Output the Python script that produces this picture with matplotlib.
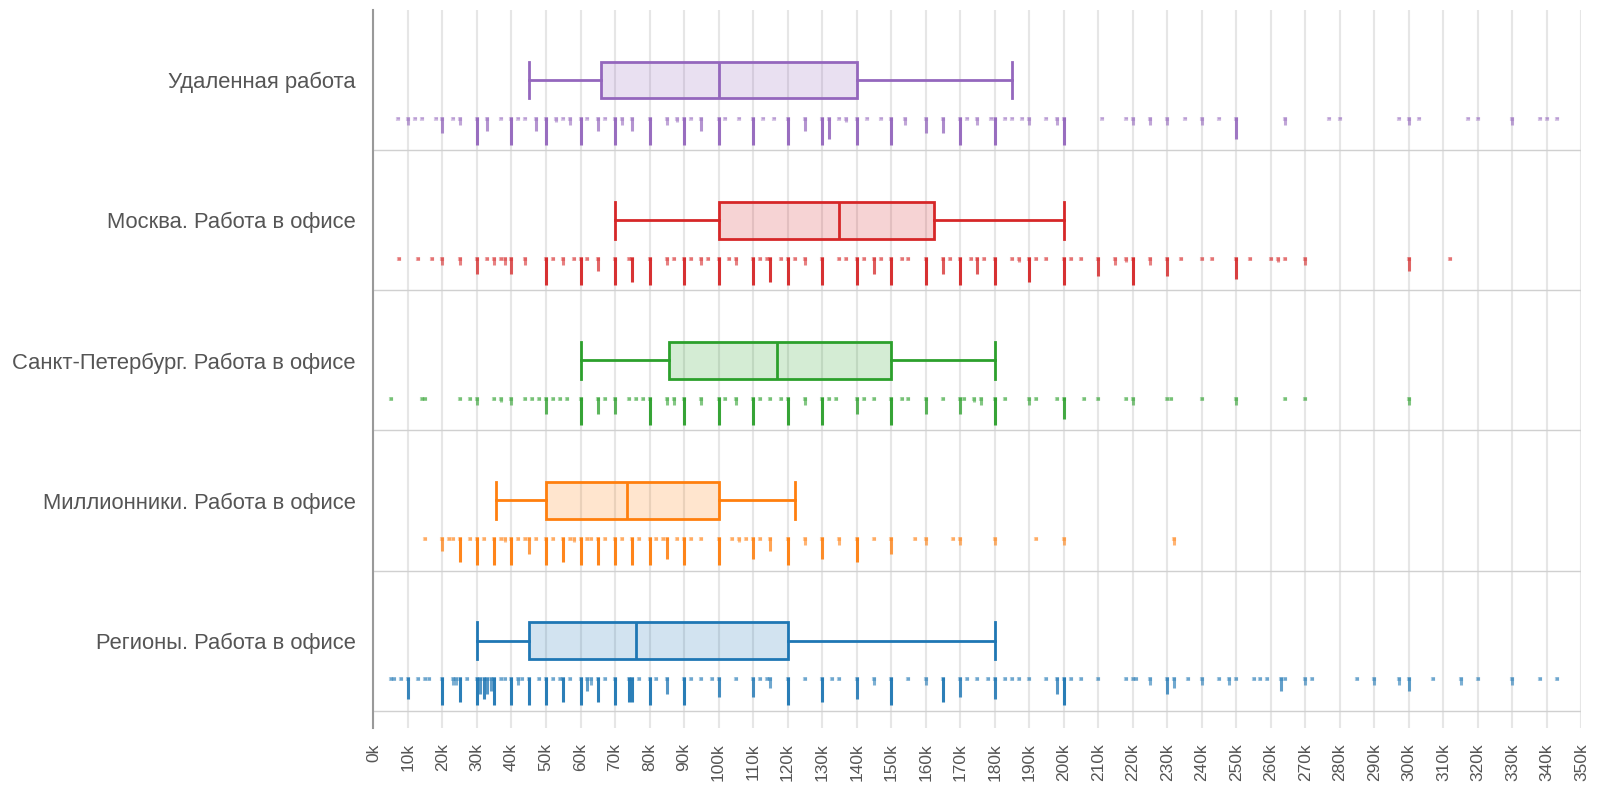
import numpy as np
import matplotlib.pyplot as plt
from matplotlib.ticker import MultipleLocator, FuncFormatter

plt.rcParams['font.family'] = ['Liberation Sans', 'DejaVu Sans']

# ---------------------- Data ----------------------
categories = [
    "Удаленная работа",
    "Москва. Работа в офисе",
    "Санкт-Петербург. Работа в офисе",
    "Миллионники. Работа в офисе",
    "Регионы. Работа в офисе",
]
colors = ["#9467bd", "#d62728", "#2ca02c", "#ff7f0e", "#1f77b4"]

# box stats, thousands RUB: whisker low, q1, median, q3, whisker high
whislo = [45, 70, 60, 35.5, 30]
q1 = [66, 100, 85.7, 50, 45]
med = [100, 135, 117, 73.5, 76]
q3 = [140, 162.5, 150, 100, 120]
whishi = [185, 200, 180, 122, 180]

# rug: salary values (k) and how many times each was seen
remote_vals = [7, 10, 12, 14, 18, 20, 23, 25, 30, 33, 37, 40, 42, 44, 47, 50, 53, 55, 57, 60,
               62, 65, 67, 70, 72, 75, 80, 85, 88, 90, 92, 95, 100, 102, 106, 110, 113, 116, 120, 125,
               130, 132, 135, 137, 140, 143, 147, 150, 154, 160, 165, 170, 172, 175, 179, 180, 183, 185, 188, 190,
               195, 198, 200, 211, 218, 220, 225, 230, 235, 240, 245, 250, 264, 277, 280, 297, 300, 303, 317, 320,
               330, 338, 340, 343]
remote_cnt = [1, 3, 1, 1, 1, 6, 1, 3, 10, 5, 1, 10, 1, 1, 5, 10, 2, 1, 3, 10,
              1, 5, 1, 10, 3, 5, 10, 3, 2, 10, 1, 5, 10, 1, 1, 10, 1, 1, 10, 5,
              10, 8, 1, 2, 10, 1, 1, 10, 3, 6, 6, 10, 1, 3, 1, 10, 1, 1, 1, 3,
              1, 3, 10, 1, 1, 3, 3, 3, 1, 3, 1, 8, 3, 1, 1, 1, 3, 1, 1, 1,
              3, 1, 1, 1]

moscow_vals = [7.5, 13, 17, 20, 25, 30, 33, 35, 37, 38, 40, 44, 50, 52, 55, 58, 60, 62, 65, 70,
               74, 75, 80, 85, 87, 90, 92, 95, 97, 100, 103, 105, 110, 112, 114, 115, 118, 120, 122, 125,
               130, 135, 137, 140, 142, 145, 147, 150, 153, 155, 160, 165, 167, 170, 173, 175, 177, 180, 185, 187,
               190, 192, 195, 200, 202, 205, 210, 215, 218, 220, 225, 230, 234, 240, 243, 250, 254, 260, 262, 264,
               270, 300, 312]
moscow_cnt = [1, 1, 1, 3, 3, 6, 1, 3, 1, 3, 6, 3, 10, 1, 3, 1, 10, 1, 5, 10,
              1, 9, 10, 3, 1, 10, 1, 3, 1, 10, 1, 3, 10, 1, 1, 9, 1, 10, 1, 3,
              10, 1, 1, 10, 1, 6, 1, 10, 1, 1, 10, 6, 1, 10, 1, 6, 1, 10, 1, 2,
              9, 1, 1, 10, 1, 1, 7, 3, 2, 10, 3, 7, 1, 1, 1, 8, 1, 1, 2, 1,
              3, 5, 1]

spb_vals = [5, 14, 15, 25, 28, 30, 35, 37, 40, 44, 46, 48, 50, 52, 54, 56, 60, 65, 67, 70,
            74, 76, 78, 80, 85, 87, 90, 95, 100, 102, 105, 110, 112, 115, 118, 120, 125, 130, 132, 134,
            140, 142, 145, 150, 153, 155, 160, 165, 170, 171, 174, 176, 180, 183, 190, 192, 198, 200, 206, 210,
            218, 220, 230, 231, 240, 250, 264, 270, 300]
spb_cnt = [1, 1, 1, 1, 1, 3, 1, 2, 3, 1, 1, 1, 6, 1, 1, 1, 10, 6, 1, 6,
           1, 1, 1, 10, 3, 3, 10, 3, 10, 1, 3, 10, 1, 1, 1, 10, 3, 10, 1, 1,
           6, 1, 1, 10, 1, 1, 6, 1, 6, 1, 2, 3, 10, 1, 3, 1, 1, 8, 1, 1,
           1, 3, 1, 1, 1, 3, 1, 1, 3]

million_vals = [15, 20, 22, 23, 25, 28, 30, 32, 35, 37, 38, 40, 42, 44, 45, 47, 50, 52, 55, 57,
                58, 60, 62, 63, 65, 67, 70, 72, 75, 77, 80, 82, 84, 85, 88, 90, 92, 95, 100, 104,
                106, 108, 110, 112, 115, 120, 125, 130, 135, 140, 145, 150, 157, 160, 168, 170, 180, 192, 200, 232]
million_cnt = [1, 5, 1, 1, 9, 1, 10, 1, 10, 1, 2, 10, 1, 1, 6, 1, 10, 1, 9, 1,
               2, 10, 1, 1, 10, 1, 10, 1, 10, 1, 10, 1, 1, 8, 1, 10, 1, 1, 10, 1,
               2, 1, 8, 1, 5, 10, 3, 8, 3, 9, 1, 6, 1, 3, 1, 3, 3, 1, 3, 3]

regions_vals = [5, 6, 8, 10, 13, 15, 16, 20, 23, 24, 25, 27, 30, 31, 32, 33, 34, 35, 37, 38,
                40, 42, 43, 45, 48, 50, 52, 54, 55, 57, 60, 62, 63, 65, 67, 70, 74, 75, 77, 80,
                82, 85, 90, 92, 95, 98, 100, 105, 110, 112, 114, 115, 120, 125, 130, 133, 135, 140, 145, 150,
                155, 160, 165, 170, 172, 175, 178, 180, 183, 185, 187, 190, 195, 198, 200, 202, 205, 210, 218, 220,
                221, 225, 230, 232, 236, 240, 245, 248, 250, 255, 257, 259, 263, 264, 270, 272, 285, 290, 297, 300,
                307, 315, 320, 330, 338, 343]
regions_cnt = [1, 1, 1, 8, 1, 1, 1, 10, 3, 3, 9, 1, 10, 6, 8, 6, 5, 10, 1, 1,
               10, 3, 1, 10, 1, 10, 1, 1, 9, 1, 10, 5, 3, 9, 1, 10, 9, 9, 1, 10,
               1, 6, 10, 1, 1, 1, 7, 1, 7, 1, 1, 4, 10, 1, 9, 1, 1, 8, 3, 10,
               1, 3, 9, 7, 1, 1, 1, 8, 1, 1, 1, 1, 1, 6, 10, 1, 1, 1, 1, 1,
               1, 3, 6, 4, 1, 3, 1, 3, 1, 1, 1, 1, 5, 1, 3, 1, 1, 3, 3, 5,
               1, 3, 1, 3, 1, 1]

rug_vals = [remote_vals, moscow_vals, spb_vals, million_vals, regions_vals]
rug_cnt = [remote_cnt, moscow_cnt, spb_cnt, million_cnt, regions_cnt]

# ---------------------- Figure ----------------------
fig = plt.figure(figsize=(16, 8.11), dpi=100)
ax = fig.add_axes([0.2334, 0.1024, 0.755, 0.885])

n = len(categories)
pos = np.arange(n) + 0.5
BOXW = 0.26
RUG_OFF = 0.26
UNIT = 0.02

stats = []
for i in range(n):
    stats.append(dict(whislo=whislo[i], q1=q1[i], med=med[i], q3=q3[i], whishi=whishi[i], fliers=[]))

for i in range(n):
    c = colors[i]
    ax.bxp([stats[i]], positions=[pos[i]], widths=BOXW, capwidths=BOXW, vert=False,
           showfliers=False, patch_artist=True,
           boxprops=dict(facecolor=c + "33", edgecolor=c, linewidth=2),
           medianprops=dict(color=c, linewidth=2),
           whiskerprops=dict(color=c, linewidth=2),
           capprops=dict(color=c, linewidth=2), zorder=3)

    # rug below each box
    top = pos[i] + RUG_OFF
    for v, k in zip(rug_vals[i], rug_cnt[i]):
        a = min(0.4 + 0.06 * k, 0.95)
        ax.vlines(v, top, top + k * UNIT, color=c, alpha=a, linewidth=2.2, zorder=2)
        ax.vlines(v, top, top + 1.4 * UNIT, color=c, alpha=0.35, linewidth=3, zorder=2)

# separators between groups
for y in range(1, n + 1):
    ax.axhline(y, color="#d0d0d0", linewidth=1, zorder=1)

# ---------------------- Axes formatting ----------------------
ax.set_xlim(0, 350)
ax.set_ylim(n + 0.124, 0)
ax.xaxis.set_major_locator(MultipleLocator(10))
ax.xaxis.set_major_formatter(FuncFormatter(lambda x, p: f"{int(x)}k"))
ax.grid(axis="x", color="#e6e6e6", linewidth=1.5, zorder=0)
ax.set_axisbelow(True)

ax.set_yticks(pos)
ax.set_yticklabels(categories, fontsize=15.8, color="#555555")
ax.tick_params(axis="y", length=0, pad=13)
ax.tick_params(axis="x", length=0, pad=11, labelsize=12.5, labelcolor="#555555", labelrotation=90)

for s in ["top", "right", "bottom"]:
    ax.spines[s].set_visible(False)
ax.spines["left"].set_color("#999999")
ax.spines["left"].set_linewidth(1.5)

plt.savefig("out.png", dpi=100)
